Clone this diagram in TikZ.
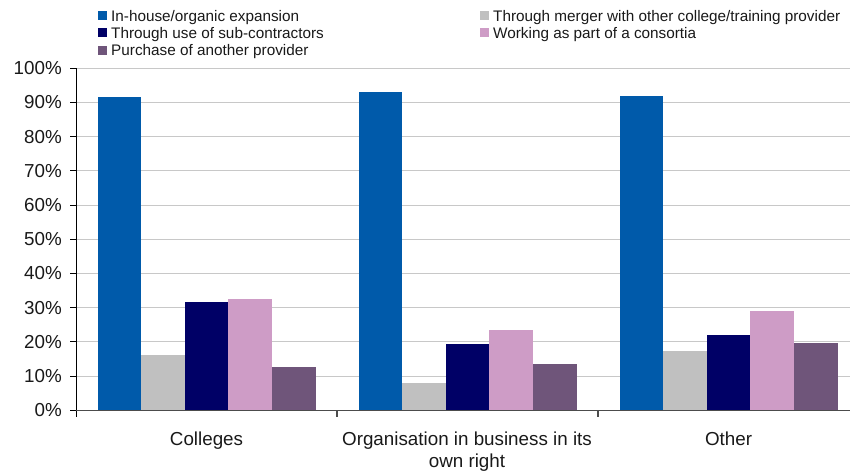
\documentclass[tikz,border=0pt]{standalone}
\usepackage{fontspec}
\setmainfont{Liberation Sans}
\definecolor{cblue}{RGB}{0,90,170}
\definecolor{cgray}{RGB}{192,192,192}
\definecolor{cnavy}{RGB}{0,0,102}
\definecolor{cpink}{RGB}{206,156,198}
\definecolor{cpurple}{RGB}{111,85,122}
\definecolor{gridc}{RGB}{200,200,200}
\definecolor{txtc}{RGB}{25,25,25}
\begin{document}
\begin{tikzpicture}[x=1pt,y=-1pt,
  axlab/.style={font=\fontsize{18.8}{22}\selectfont, text=txtc, inner sep=0pt},
  leglab/.style={font=\fontsize{15.3}{18}\selectfont, text=txtc, anchor=base west, inner sep=0pt},
  gridline/.style={draw=gridc, line width=1pt},
  axisline/.style={draw=black, line width=1pt},
  xaxisline/.style={draw=black!70, line width=1.3pt}]
\useasboundingbox (0,0) rectangle (850,472);
% gridlines and y labels
\foreach \v in {0,10,...,100}{
  \pgfmathsetmacro{\yy}{410.3-\v*3.42}
  \ifnum\v>0 \draw[gridline] (76,\yy) -- (850,\yy);\fi
  \draw[axisline] (70,\yy) -- (76,\yy);
  \node[axlab, anchor=east] (yl\v) at (62,\yy) {\v\%};
}
% bars
\foreach \k/\vals in {0/{91.7,16.2,31.8,32.6,12.7},1/{93.2,8.0,19.5,23.6,13.6},2/{92.0,17.4,22.1,29.1,19.8}}{
  \foreach \v [count=\i from 0] in \vals {
    \pgfmathsetmacro{\xl}{76+261*\k+21.5+43.6*\i}
    \pgfmathsetmacro{\xr}{\xl+43.6}
    \pgfmathsetmacro{\yt}{410.3-\v*3.42}
    \ifcase\i \def\cc{cblue}\or \def\cc{cgray}\or \def\cc{cnavy}\or \def\cc{cpink}\or \def\cc{cpurple}\fi
    \fill[\cc] (\xl,\yt) rectangle (\xr,410.3);
  }
}
% axes
\draw[axisline] (76,68.3) -- (76,416.5);
\draw[xaxisline] (76,410.3) -- (850,410.3);
\draw[xaxisline] (337,410.3) -- (337,416.5);
\draw[xaxisline] (598,410.3) -- (598,416.5);
% category labels
\node[axlab, anchor=base] (c1) at (206.5,445) {Colleges};
\node[axlab, anchor=base] (c2) at (467,445) {Organisation in business in its};
\node[axlab, anchor=base] (c2b) at (467,467) {own right};
\node[axlab, anchor=base] (c3) at (728.5,445) {Other};
% legend
\fill[cblue] (97.5,11) rectangle (106.5,20);
\node[leglab] (l1) at (111,21) {In-house/organic expansion};
\fill[cnavy] (97.5,28) rectangle (106.5,37);
\node[leglab] (l2) at (111,38) {Through use of sub-contractors};
\fill[cpurple] (97.5,45.5) rectangle (106.5,54.5);
\node[leglab] (l3) at (111,55) {Purchase of another provider};
\fill[cgray] (480,11) rectangle (489,20);
\node[leglab] (l4) at (493,21) {Through merger with other college/training provider};
\fill[cpink] (480,28) rectangle (489,37);
\node[leglab] (l5) at (493,38) {Working as part of a consortia};
\end{tikzpicture}
\end{document}
